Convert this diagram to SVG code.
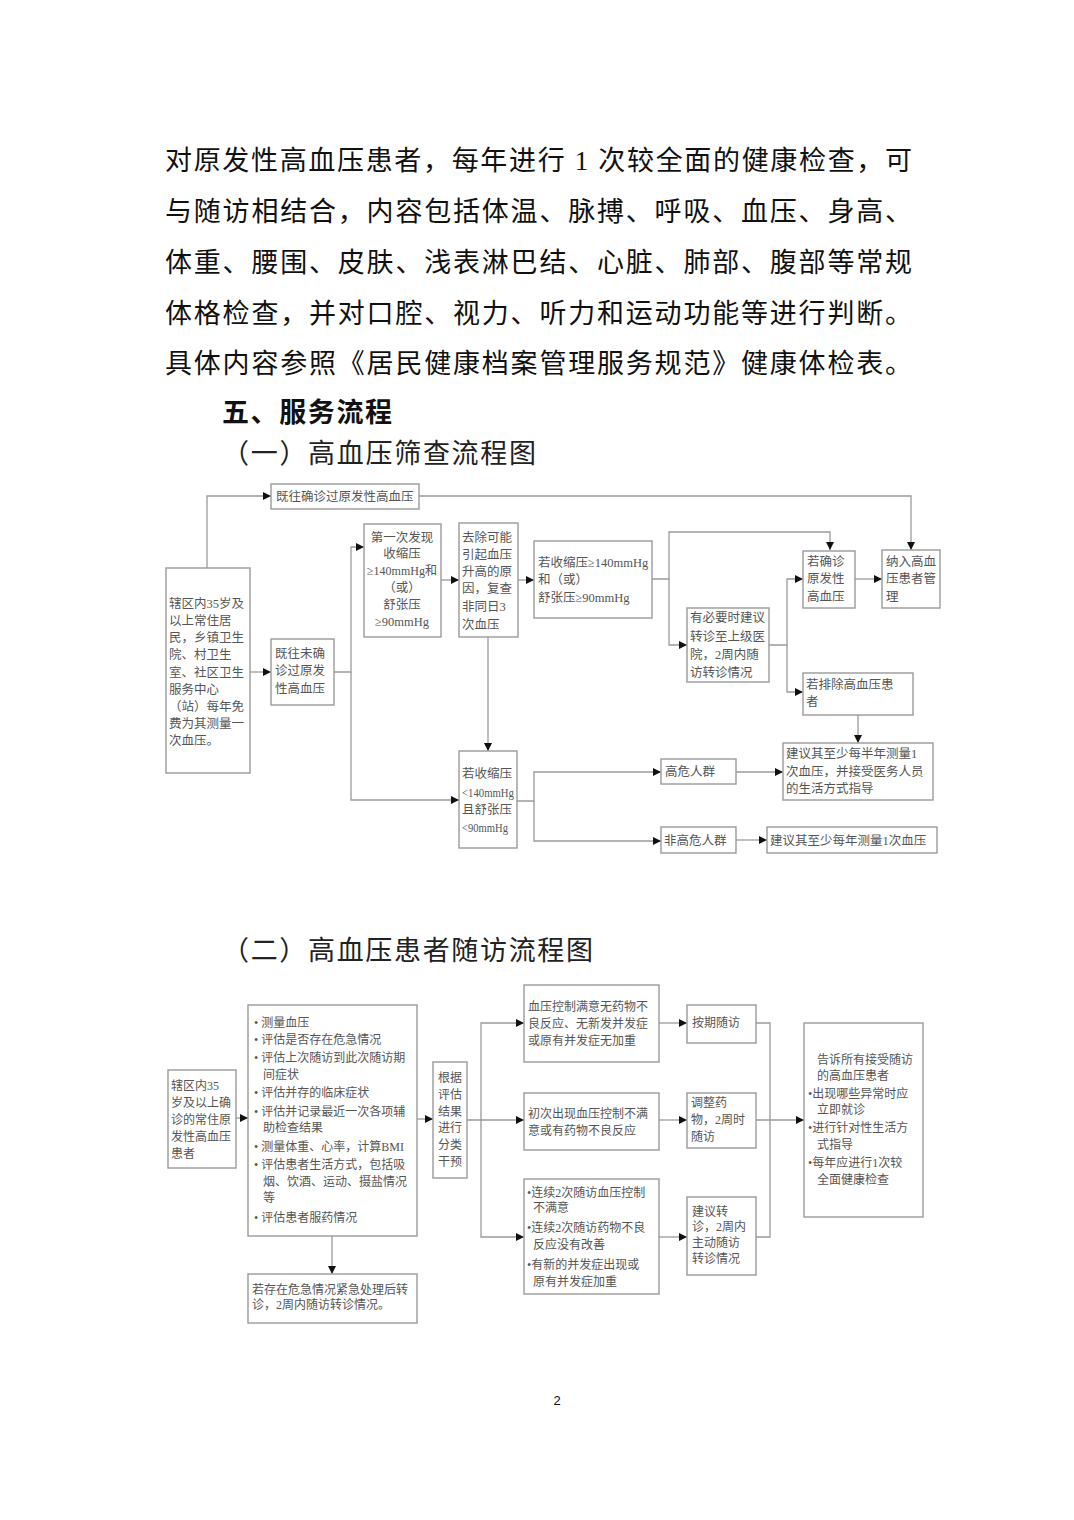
<svg xmlns="http://www.w3.org/2000/svg" width="1074" height="1520" viewBox="0 0 1074 1520">
<style>
.p{font-family:"Liberation Serif","Noto Sans CJK SC",serif;font-size:27px;fill:#111}
.h{font-family:"Liberation Sans","Noto Sans CJK SC",sans-serif;font-size:27px;font-weight:bold;fill:#111}
.h2{font-family:"Liberation Serif","Noto Sans CJK SC",serif;font-size:27px;fill:#222}
.b{fill:#fff;stroke:#9a9a9a;stroke-width:1.4}
.c{fill:none;stroke:#9a9a9a;stroke-width:1.3}
.t{font-family:"Liberation Serif","Noto Sans CJK SC",serif;font-size:12.5px;fill:#555}
.s{font-family:"Liberation Serif","Noto Sans CJK SC",serif;font-size:12px;fill:#555}
.m{text-anchor:middle}
.pg{font-family:"Liberation Sans",sans-serif;font-size:13px;fill:#111}
</style>
<defs>
<marker id="a" markerUnits="userSpaceOnUse" markerWidth="9" markerHeight="8" refX="8" refY="4" orient="auto">
<path d="M0,0 L8,4 L0,8 z" fill="#111"/>
</marker>
</defs>
<rect width="1074" height="1520" fill="#fff"/>

<g id="body">
<text class="p" x="165" y="170" textLength="747" lengthAdjust="spacing">对原发性高血压患者，每年进行 1 次较全面的健康检查，可</text>
<text class="p" x="165" y="221" textLength="747" lengthAdjust="spacing">与随访相结合，内容包括体温、脉搏、呼吸、血压、身高、</text>
<text class="p" x="165" y="272" textLength="747" lengthAdjust="spacing">体重、腰围、皮肤、浅表淋巴结、心脏、肺部、腹部等常规</text>
<text class="p" x="165" y="323" textLength="747" lengthAdjust="spacing">体格检查，并对口腔、视力、听力和运动功能等进行判断。</text>
<text class="p" x="165" y="373" textLength="747" lengthAdjust="spacing">具体内容参照《居民健康档案管理服务规范》健康体检表。</text>
<text class="h" x="222" y="422" textLength="170" lengthAdjust="spacing">五、服务流程</text>
<text class="h2" x="222" y="463" textLength="314" lengthAdjust="spacing">（一）高血压筛查流程图</text>
<text class="h2" x="222" y="960" textLength="371" lengthAdjust="spacing">（二）高血压患者随访流程图</text>
<text class="pg" x="557" y="1405" text-anchor="middle">2</text>
</g>

<g id="connectors1">
<path class="c" d="M207,568 V496 H271" marker-end="url(#a)"/>
<path class="c" d="M250,672 H271" marker-end="url(#a)"/>
<path class="c" d="M334,672 H351 V547 H364" marker-end="url(#a)"/>
<path class="c" d="M351,672 V800 H459" marker-end="url(#a)"/>
<path class="c" d="M441,580 H459" marker-end="url(#a)"/>
<path class="c" d="M518,580 H534" marker-end="url(#a)"/>
<path class="c" d="M488,637 V751" marker-end="url(#a)"/>
<path class="c" d="M652,579 H669 V532 H830 V550" marker-end="url(#a)"/>
<path class="c" d="M669,579 V645 H687" marker-end="url(#a)"/>
<path class="c" d="M769,645 H787 V579 H803" marker-end="url(#a)"/>
<path class="c" d="M787,645 V692 H803" marker-end="url(#a)"/>
<path class="c" d="M855,579 H882" marker-end="url(#a)"/>
<path class="c" d="M419,496 H911 V550" marker-end="url(#a)"/>
<path class="c" d="M858,715 V743" marker-end="url(#a)"/>
<path class="c" d="M517,801 H534 V772 H661" marker-end="url(#a)"/>
<path class="c" d="M534,801 V841 H661" marker-end="url(#a)"/>
<path class="c" d="M736,772 H783" marker-end="url(#a)"/>
<path class="c" d="M736,840 H767" marker-end="url(#a)"/>
</g>

<g id="n1-history">
<rect class="b" x="271" y="484" width="148" height="25"/>
<text class="t" x="276" y="501">既往确诊过原发性高血压</text>
</g>
<g id="n1-residents">
<rect class="b" x="166" y="568" width="84" height="205"/>
<text class="t" x="169" y="608">辖区内35岁及</text>
<text class="t" x="169" y="625">以上常住居</text>
<text class="t" x="169" y="642">民，乡镇卫生</text>
<text class="t" x="169" y="659">院、村卫生</text>
<text class="t" x="169" y="677">室、社区卫生</text>
<text class="t" x="169" y="694">服务中心</text>
<text class="t" x="169" y="711">（站）每年免</text>
<text class="t" x="169" y="728">费为其测量一</text>
<text class="t" x="169" y="745">次血压。</text>
</g>
<g id="n1-undiagnosed">
<rect class="b" x="271" y="639" width="63" height="66"/>
<text class="t" x="275" y="658">既往未确</text>
<text class="t" x="275" y="675">诊过原发</text>
<text class="t" x="275" y="693">性高血压</text>
</g>
<g id="n1-first">
<rect class="b" x="364" y="524" width="77" height="113"/>
<text class="t m" x="402" y="542">第一次发现</text>
<text class="t m" x="402" y="558">收缩压</text>
<text class="t m" x="402" y="575" textLength="70" lengthAdjust="spacingAndGlyphs">≥140mmHg和</text>
<text class="t m" x="402" y="592">（或）</text>
<text class="t m" x="402" y="609">舒张压</text>
<text class="t m" x="402" y="626">≥90mmHg</text>
</g>
<g id="n1-recheck">
<rect class="b" x="459" y="523" width="59" height="114"/>
<text class="t" x="462" y="542">去除可能</text>
<text class="t" x="462" y="559">引起血压</text>
<text class="t" x="462" y="576">升高的原</text>
<text class="t" x="462" y="593">因，复查</text>
<text class="t" x="462" y="611">非同日3</text>
<text class="t" x="462" y="629">次血压</text>
</g>
<g id="n1-high">
<rect class="b" x="534" y="541" width="118" height="77"/>
<text class="t" x="538" y="567">若收缩压≥140mmHg</text>
<text class="t" x="538" y="584">和（或）</text>
<text class="t" x="538" y="602">舒张压≥90mmHg</text>
</g>
<g id="n1-confirm">
<rect class="b" x="803" y="551" width="52" height="57"/>
<text class="t" x="807" y="566">若确诊</text>
<text class="t" x="807" y="583">原发性</text>
<text class="t" x="807" y="601">高血压</text>
</g>
<g id="n1-manage">
<rect class="b" x="882" y="550" width="58" height="58"/>
<text class="t" x="886" y="566">纳入高血</text>
<text class="t" x="886" y="583">压患者管</text>
<text class="t" x="886" y="601">理</text>
</g>
<g id="n1-referral">
<rect class="b" x="687" y="608" width="82" height="74"/>
<text class="t" x="690" y="622">有必要时建议</text>
<text class="t" x="690" y="641">转诊至上级医</text>
<text class="t" x="690" y="659">院，2周内随</text>
<text class="t" x="690" y="677">访转诊情况</text>
</g>
<g id="n1-exclude">
<rect class="b" x="803" y="673" width="110" height="42"/>
<text class="t" x="806" y="689">若排除高血压患</text>
<text class="t" x="806" y="706">者</text>
</g>
<g id="n1-low">
<rect class="b" x="459" y="751" width="58" height="97"/>
<text class="t" x="462" y="778">若收缩压</text>
<text class="t" x="462" y="797" textLength="52" lengthAdjust="spacingAndGlyphs">&lt;140mmHg</text>
<text class="t" x="462" y="814">且舒张压</text>
<text class="t" x="462" y="832" textLength="46" lengthAdjust="spacingAndGlyphs">&lt;90mmHg</text>
</g>
<g id="n1-highrisk">
<rect class="b" x="661" y="759" width="75" height="25"/>
<text class="t" x="665" y="776">高危人群</text>
</g>
<g id="n1-halfyear">
<rect class="b" x="783" y="743" width="150" height="57"/>
<text class="t" x="786" y="758">建议其至少每半年测量1</text>
<text class="t" x="786" y="776">次血压，并接受医务人员</text>
<text class="t" x="786" y="793">的生活方式指导</text>
</g>
<g id="n1-lowrisk">
<rect class="b" x="661" y="827" width="75" height="26"/>
<text class="t" x="664" y="845">非高危人群</text>
</g>
<g id="n1-yearly">
<rect class="b" x="767" y="827" width="170" height="26"/>
<text class="t" x="770" y="845">建议其至少每年测量1次血压</text>
</g>

<g id="connectors2">
<path class="c" d="M236,1118 H248" marker-end="url(#a)"/>
<path class="c" d="M332,1236 V1274" marker-end="url(#a)"/>
<path class="c" d="M417,1119 H433" marker-end="url(#a)"/>
<path class="c" d="M467,1120 H481 V1023 H524" marker-end="url(#a)"/>
<path class="c" d="M481,1120 H524" marker-end="url(#a)"/>
<path class="c" d="M481,1120 V1237 H524" marker-end="url(#a)"/>
<path class="c" d="M659,1023 H687" marker-end="url(#a)"/>
<path class="c" d="M659,1120 H687" marker-end="url(#a)"/>
<path class="c" d="M659,1237 H687" marker-end="url(#a)"/>
<path class="c" d="M756,1023 H770 V1237 H756"/>
<path class="c" d="M756,1120 H804" marker-end="url(#a)"/>
</g>

<g id="n2-patients">
<rect class="b" x="168" y="1070" width="68" height="98"/>
<text class="s" x="171" y="1090">辖区内35</text>
<text class="s" x="171" y="1107">岁及以上确</text>
<text class="s" x="171" y="1124">诊的常住原</text>
<text class="s" x="171" y="1141">发性高血压</text>
<text class="s" x="171" y="1158">患者</text>
</g>
<g id="n2-assess">
<rect class="b" x="248" y="1005" width="169" height="231"/>
<text class="s" x="254" y="1027">• 测量血压</text>
<text class="s" x="254" y="1044">• 评估是否存在危急情况</text>
<text class="s" x="254" y="1062">• 评估上次随访到此次随访期</text>
<text class="s" x="263" y="1079">间症状</text>
<text class="s" x="254" y="1097">• 评估并存的临床症状</text>
<text class="s" x="254" y="1116">• 评估并记录最近一次各项辅</text>
<text class="s" x="263" y="1132">助检查结果</text>
<text class="s" x="254" y="1151">• 测量体重、心率，计算BMI</text>
<text class="s" x="254" y="1169">• 评估患者生活方式，包括吸</text>
<text class="s" x="263" y="1186">烟、饮酒、运动、摄盐情况</text>
<text class="s" x="263" y="1202">等</text>
<text class="s" x="254" y="1222">• 评估患者服药情况</text>
</g>
<g id="n2-emergency">
<rect class="b" x="248" y="1274" width="169" height="49"/>
<text class="s" x="252" y="1294">若存在危急情况紧急处理后转</text>
<text class="s" x="252" y="1309">诊，2周内随访转诊情况。</text>
</g>
<g id="n2-classify">
<rect class="b" x="433" y="1062" width="34" height="116"/>
<text class="s m" x="450" y="1082">根据</text>
<text class="s m" x="450" y="1099">评估</text>
<text class="s m" x="450" y="1116">结果</text>
<text class="s m" x="450" y="1132">进行</text>
<text class="s m" x="450" y="1149">分类</text>
<text class="s m" x="450" y="1166">干预</text>
</g>
<g id="n2-satisfied">
<rect class="b" x="524" y="985" width="135" height="77"/>
<text class="s" x="528" y="1011">血压控制满意无药物不</text>
<text class="s" x="528" y="1028">良反应、无新发并发症</text>
<text class="s" x="528" y="1045">或原有并发症无加重</text>
</g>
<g id="n2-first-unsat">
<rect class="b" x="524" y="1093" width="135" height="57"/>
<text class="s" x="528" y="1118">初次出现血压控制不满</text>
<text class="s" x="528" y="1135">意或有药物不良反应</text>
</g>
<g id="n2-repeat-unsat">
<rect class="b" x="524" y="1179" width="135" height="115"/>
<text class="s" x="527" y="1197">•连续2次随访血压控制</text>
<text class="s" x="533" y="1212">不满意</text>
<text class="s" x="527" y="1232">•连续2次随访药物不良</text>
<text class="s" x="533" y="1249">反应没有改善</text>
<text class="s" x="527" y="1269">•有新的并发症出现或</text>
<text class="s" x="533" y="1286">原有并发症加重</text>
</g>
<g id="n2-scheduled">
<rect class="b" x="687" y="1005" width="69" height="38"/>
<text class="s" x="692" y="1027">按期随访</text>
</g>
<g id="n2-adjust">
<rect class="b" x="687" y="1093" width="69" height="55"/>
<text class="s" x="691" y="1107">调整药</text>
<text class="s" x="691" y="1124">物，2周时</text>
<text class="s" x="691" y="1141">随访</text>
</g>
<g id="n2-transfer">
<rect class="b" x="687" y="1197" width="69" height="78"/>
<text class="s" x="692" y="1216">建议转</text>
<text class="s" x="692" y="1231">诊，2周内</text>
<text class="s" x="692" y="1247">主动随访</text>
<text class="s" x="692" y="1263">转诊情况</text>
</g>
<g id="n2-inform">
<rect class="b" x="804" y="1023" width="119" height="194"/>
<text class="s" x="817" y="1064">告诉所有接受随访</text>
<text class="s" x="817" y="1080">的高血压患者</text>
<text class="s" x="808" y="1098">•出现哪些异常时应</text>
<text class="s" x="817" y="1114">立即就诊</text>
<text class="s" x="808" y="1132">•进行针对性生活方</text>
<text class="s" x="817" y="1149">式指导</text>
<text class="s" x="808" y="1167">•每年应进行1次较</text>
<text class="s" x="817" y="1184">全面健康检查</text>
</g>
</svg>
